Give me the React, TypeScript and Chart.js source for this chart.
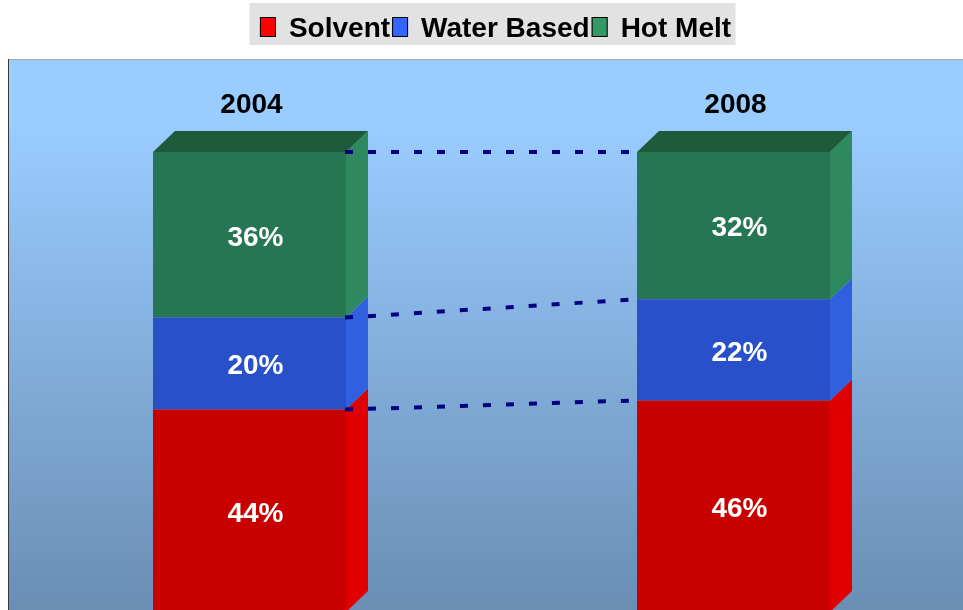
import React, { useEffect, useRef } from "react";
import { Chart, registerables } from "chart.js";

Chart.register(...registerables);

const categories = ["2004", "2008"];
const seriesNames = ["Solvent", "Water Based", "Hot Melt"];
const solvent = [44, 46];
const waterBased = [20, 22];
const hotMelt = [36, 32];

const frontColors = ["#C80000", "#2850C8", "#267553"];
const sideColors = ["#E00000", "#3060E0", "#2E8A5E"];
const topColor = "#1E5A3C";
const legendColors = ["#FF0000", "#3366FF", "#339966"];

const FONT = "bold 28px 'Liberation Sans', Arial, sans-serif";
const DEPTH_X = 22;
const DEPTH_Y = 21;

const decorPlugin = {
  id: "decor",
  beforeDraw(chart: any) {
    const { ctx, width, height, chartArea } = chart;
    ctx.save();
    ctx.fillStyle = "#FFFFFF";
    ctx.fillRect(0, 0, width, height);
    // plot background
    const top = 60;
    const g = ctx.createLinearGradient(0, top, 0, height);
    g.addColorStop(0, "#99CCFF");
    g.addColorStop(0.12, "#99CCFF");
    g.addColorStop(1, "#6A8EB4");
    ctx.fillStyle = g;
    ctx.fillRect(9, top, width - 9, height - top);
    ctx.fillStyle = "#A8A8A8";
    ctx.fillRect(8, top - 1, width - 8, 1);
    ctx.fillStyle = "#3A3A3A";
    ctx.fillRect(8, top - 1, 1, height - top + 1);

    // legend
    ctx.font = FONT;
    const boxW = 16;
    const boxH = 20;
    const gap = 13;
    const pad = 2;
    const widths = seriesNames.map((n) => boxW + gap + ctx.measureText(n).width);
    const total = widths.reduce((a, b) => a + b, 0) + pad * (widths.length - 1);
    const cx = (chartArea.left + chartArea.right) / 2;
    ctx.fillStyle = "#E2E2E2";
    ctx.fillRect(cx - 242, 3, 486, 42);
    let x = cx + 4 - total / 2;
    seriesNames.forEach((n, i) => {
      ctx.fillStyle = legendColors[i];
      ctx.fillRect(x, 17, boxW, boxH);
      ctx.strokeStyle = "#000000";
      ctx.lineWidth = 1;
      ctx.strokeRect(x + 0.5, 17.5, boxW - 1, boxH - 1);
      ctx.fillStyle = "#000000";
      ctx.textBaseline = "middle";
      ctx.textAlign = "left";
      ctx.fillText(n, x + boxW + gap, 29);
      x += widths[i] + pad;
    });
    ctx.restore();
  },
  afterDatasetsDraw(chart: any) {
    const { ctx } = chart;
    const n = chart.data.datasets.length;
    ctx.save();
    // side and top faces
    for (let d = 0; d < n; d++) {
      const meta = chart.getDatasetMeta(d);
      meta.data.forEach((bar: any) => {
        const left = bar.x - bar.width / 2;
        const right = bar.x + bar.width / 2;
        const t = bar.y;
        const b = bar.base;
        ctx.fillStyle = sideColors[d];
        ctx.beginPath();
        ctx.moveTo(right, b);
        ctx.lineTo(right + DEPTH_X, b - DEPTH_Y);
        ctx.lineTo(right + DEPTH_X, t - DEPTH_Y);
        ctx.lineTo(right, t);
        ctx.closePath();
        ctx.fill();
        if (d === n - 1) {
          ctx.fillStyle = topColor;
          ctx.beginPath();
          ctx.moveTo(left, t);
          ctx.lineTo(left + DEPTH_X, t - DEPTH_Y);
          ctx.lineTo(right + DEPTH_X, t - DEPTH_Y);
          ctx.lineTo(right, t);
          ctx.closePath();
          ctx.fill();
        }
      });
    }
    // connector lines
    ctx.strokeStyle = "#000080";
    ctx.lineWidth = 4;
    ctx.setLineDash([8, 15]);
    for (let d = 0; d < n; d++) {
      const bars = chart.getDatasetMeta(d).data;
      for (let i = 0; i < bars.length - 1; i++) {
        const a = bars[i];
        const c = bars[i + 1];
        ctx.beginPath();
        ctx.moveTo(a.x + a.width / 2 - 1, a.y);
        ctx.lineTo(c.x - c.width / 2, c.y);
        ctx.stroke();
      }
    }
    ctx.setLineDash([]);
    // value labels
    ctx.font = FONT;
    ctx.textAlign = "center";
    ctx.textBaseline = "middle";
    ctx.fillStyle = "#FFFFFF";
    for (let d = 0; d < n; d++) {
      const meta = chart.getDatasetMeta(d);
      const vals = chart.data.datasets[d].data;
      meta.data.forEach((bar: any, i: number) => {
        ctx.fillText(vals[i] + "%", bar.x + 6, (bar.y + bar.base) / 2 + 3);
      });
    }
    // category labels
    ctx.fillStyle = "#000000";
    const xs = chart.scales.x;
    const ys = chart.scales.y;
    categories.forEach((c, i) => {
      ctx.fillText(c, xs.getPixelForValue(i) + 2, ys.getPixelForValue(110.8) + 3);
    });
    ctx.restore();
  },
};

export default function App() {
  const ref = useRef<HTMLCanvasElement | null>(null);
  useEffect(() => {
    if (!ref.current) return;
    const series = [solvent, waterBased, hotMelt];
    const chart = new Chart(ref.current, {
      type: "bar",
      data: {
        labels: categories,
        datasets: series.map((s, i) => ({
          label: seriesNames[i],
          data: s,
          backgroundColor: frontColors[i],
          borderWidth: 0,
          categoryPercentage: 193 / 484,
          barPercentage: 1,
          clip: false as any,
        })),
      },
      options: {
        responsive: false,
        animation: false,
        events: [],
        layout: { padding: { left: 249.5, right: 229.5, top: 60, bottom: 0 } },
        plugins: { legend: { display: false }, tooltip: { enabled: false } },
        scales: {
          x: { stacked: true, offset: false, display: false },
          y: { stacked: true, min: 0.43, max: 120, display: false },
        },
      },
      plugins: [decorPlugin],
    });
    return () => chart.destroy();
  }, []);
  return (
    <div style={{ position: "fixed", left: 0, top: 0, width: 963, height: 610 }}>
      <canvas ref={ref} width={963} height={610} style={{ display: "block" }} />
    </div>
  );
}
